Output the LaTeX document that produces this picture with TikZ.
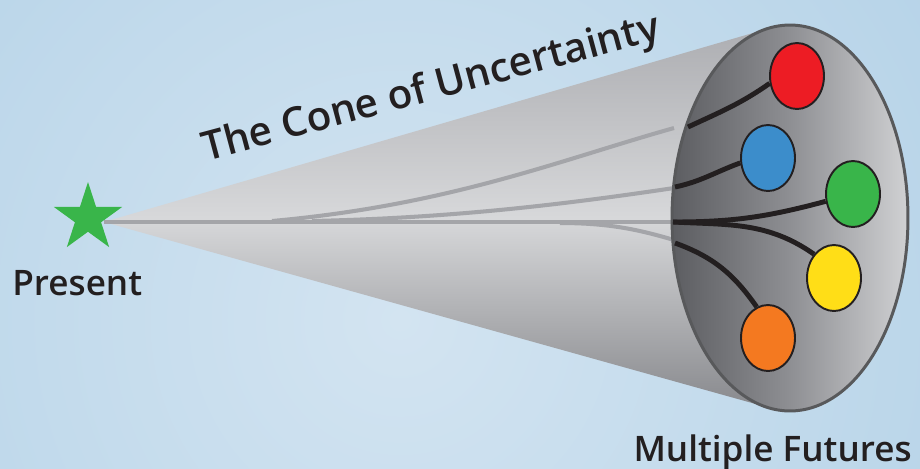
\documentclass[tikz,border=0pt]{standalone}
\usepackage{fontspec}
\setmainfont{Open Sans}[BoldFont={Open Sans Semibold}]
\usepackage{tikz}
\usetikzlibrary{shapes.geometric}
\definecolor{skyin}{HTML}{D3E4F1}
\definecolor{skyout}{HTML}{A6CAE3}
\definecolor{conetop}{HTML}{ADAEB2}
\definecolor{conemid}{HTML}{D7D8DA}
\definecolor{conebot}{HTML}{88898D}
\definecolor{faceleft}{HTML}{5C5D61}
\definecolor{facemid}{HTML}{8E8F93}
\definecolor{faceright}{HTML}{D0D1D3}
\definecolor{rimgray}{HTML}{58595B}
\definecolor{trackgray}{HTML}{A4A5A9}
\definecolor{ink}{HTML}{231F20}
\definecolor{starg}{HTML}{39B54A}
\definecolor{fred}{HTML}{ED1C24}
\definecolor{fblue}{HTML}{3C8DCB}
\definecolor{fgreen}{HTML}{39B54A}
\definecolor{fyellow}{HTML}{FFDE17}
\definecolor{forange}{HTML}{F47920}
\tikzset{
  future/.style={ellipse, draw=ink, line width=1.1pt, minimum width=1.08cm,
                 minimum height=1.32cm, inner sep=0pt},
  track/.style={draw=trackgray, line width=2.3pt},
  wire/.style={draw=ink, line width=2.8pt},
  caption/.style={font=\bfseries\fontsize{20}{24}\selectfont, text=ink, inner sep=0pt},
}

\begin{document}
\begin{tikzpicture}[x=0.02cm, y=-0.02cm]
  \useasboundingbox (0,0) rectangle (920,468);

  % Sky
  \begin{scope}
    \clip (0,0) rectangle (920,468);
    \shade[inner color=skyin, outer color=skyout] (400,320) circle (1000);
  \end{scope}

  % Cone body
  \coordinate (apex)   at (104,222);
  \coordinate (rimtop) at (770,28);
  \coordinate (rimbot) at (770,408);
  \shade[top color=conetop, bottom color=conebot, middle color=conemid]
    (apex) -- (rimtop) -- (rimbot) -- cycle;

  % Tracks inside the cone
  \draw[track, line width=2.8pt] (apex) -- (674,222);
  \draw[track] (272,221) .. controls (450,205) and (560,160) .. (674,128);
  \draw[track] (312,221) .. controls (450,218) and (560,205) .. (674,188);
  \draw[track] (560,223) .. controls (610,223) and (640,230) .. (674,240);

  % Open end of the cone
  \node[ellipse, shade, left color=faceleft, right color=faceright, middle color=facemid,
        draw=rimgray, line width=1.7pt, minimum width=4.72cm, minimum height=7.72cm,
        inner sep=0pt] (face) at (790,218) {};

  % Futures
  \node[future, fill=fred]    (red)    at (797,76)  {};
  \node[future, fill=fblue]   (blue)   at (768,158) {};
  \node[future, fill=fgreen]  (green)  at (853,194) {};
  \node[future, fill=fyellow] (yellow) at (834,278) {};
  \node[future, fill=forange] (orange) at (768,338) {};

  % Wires
  \coordinate (fork) at (673,222);
  \draw[wire] (688,127) to[out=25, in=215] (red.195);
  \draw[wire] (675,187) to[out=12, in=200] (blue.190);
  \draw[wire] (fork) to[out=0, in=195] (green.195);
  \draw[wire] (fork) to[out=-3, in=145] (yellow.130);
  \draw[wire] (675,243) to[out=-20, in=125] (orange.110);

  % Present
  \node[star, star points=5, star point ratio=2.618, fill=starg, minimum size=1.44cm,
        inner sep=0pt] (now) at (88,218) {};
  \node[caption, anchor=base west] (present) at (12,295) {Present};

  % Labels
  \node[caption, anchor=base east] (futures) at (912,461) {Multiple Futures};
  \node[caption, font=\bfseries\fontsize{23}{27}\selectfont, rotate=15, anchor=base]
    (title) at (434,100) {The Cone of Uncertainty};

\end{tikzpicture}
\end{document}
